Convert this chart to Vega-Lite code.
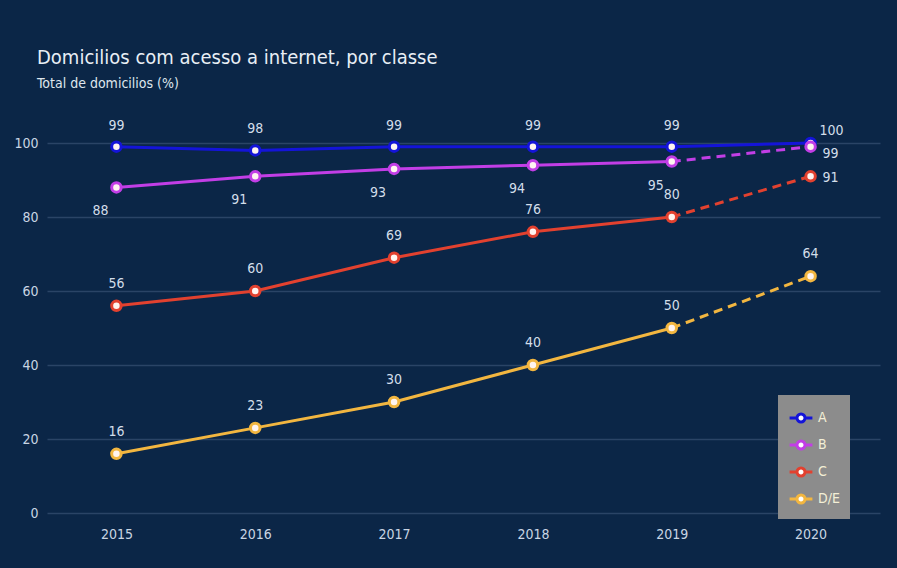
{
  "$schema": "https://vega.github.io/schema/vega-lite/v6.json",
  "width": 833,
  "height": 370,
  "autosize": "none",
  "padding": {"left": 47, "top": 143, "right": 17, "bottom": 55},
  "background": "#0b2647",
  "title": {
    "text": "Domicilios com acesso a internet, por classe",
    "subtitle": "Total de domicilios (%)",
    "anchor": "start",
    "frame": "group",
    "dx": -10,
    "offset": 28,
    "font": "DejaVu Sans Condensed, sans-serif",
    "fontSize": 20,
    "fontWeight": 500,
    "color": "#e8eef5",
    "subtitleFont": "DejaVu Sans Condensed, sans-serif",
    "subtitleFontSize": 14,
    "subtitleColor": "#dfe6ee",
    "subtitlePadding": 9
  },
  "config": {
    "view": {"stroke": null},
    "font": "DejaVu Sans Condensed, sans-serif",
    "axis": {
      "labelFont": "DejaVu Sans Condensed, sans-serif",
      "labelColor": "#c9d5e3",
      "labelFontSize": 14,
      "domain": false,
      "ticks": false,
      "title": null,
      "gridColor": "#2a4466",
      "gridWidth": 1.5
    }
  },
  "data": {
    "values": [
      {"Ano": "2015", "classe": "A", "valor": 99},
      {"Ano": "2016", "classe": "A", "valor": 98},
      {"Ano": "2017", "classe": "A", "valor": 99},
      {"Ano": "2018", "classe": "A", "valor": 99},
      {"Ano": "2019", "classe": "A", "valor": 99},
      {"Ano": "2020", "classe": "A", "valor": 100},
      {"Ano": "2015", "classe": "B", "valor": 88},
      {"Ano": "2016", "classe": "B", "valor": 91},
      {"Ano": "2017", "classe": "B", "valor": 93},
      {"Ano": "2018", "classe": "B", "valor": 94},
      {"Ano": "2019", "classe": "B", "valor": 95},
      {"Ano": "2020", "classe": "B", "valor": 99},
      {"Ano": "2015", "classe": "C", "valor": 56},
      {"Ano": "2016", "classe": "C", "valor": 60},
      {"Ano": "2017", "classe": "C", "valor": 69},
      {"Ano": "2018", "classe": "C", "valor": 76},
      {"Ano": "2019", "classe": "C", "valor": 80},
      {"Ano": "2020", "classe": "C", "valor": 91},
      {"Ano": "2015", "classe": "D/E", "valor": 16},
      {"Ano": "2016", "classe": "D/E", "valor": 23},
      {"Ano": "2017", "classe": "D/E", "valor": 30},
      {"Ano": "2018", "classe": "D/E", "valor": 40},
      {"Ano": "2019", "classe": "D/E", "valor": 50},
      {"Ano": "2020", "classe": "D/E", "valor": 64}
    ]
  },
  "encoding": {
    "x": {
      "field": "Ano",
      "type": "ordinal",
      "scale": {"type": "point", "padding": 0.5},
      "axis": {"labelAngle": 0, "labelPadding": 14, "grid": false}
    },
    "y": {
      "field": "valor",
      "type": "quantitative",
      "scale": {"domain": [0, 100]},
      "axis": {"values": [0, 20, 40, 60, 80, 100], "labelPadding": 9, "grid": true}
    }
  },
  "layer": [
    {
      "transform": [{"filter": "datum.Ano <= '2019' || datum.classe == 'A'"}],
      "mark": {"type": "line", "strokeWidth": 3},
      "encoding": {
        "color": {
          "field": "classe",
          "type": "nominal",
          "scale": {"domain": ["A", "B", "C", "D/E"], "range": ["#1414d8", "#c23ee6", "#e2412f", "#f2b640"]},
          "legend": {
            "title": null,
            "orient": "none",
            "legendX": 731,
            "legendY": 252,
            "fillColor": "#8c8c8c",
            "padding": 10,
            "rowPadding": 4,
            "symbolType": "M-1,0L-0.35,0M0.35,0L1,0M-0.35,0A0.35,0.35 0 1,1 0.35,0A0.35,0.35 0 1,1 -0.35,0",
            "symbolSize": 520,
            "symbolStrokeWidth": 3,
            "symbolFillColor": "#ffffff",
            "labelColor": "#f3efd6",
            "labelFontSize": 14,
            "labelOffset": 4,
            "labelFont": "DejaVu Sans Condensed, sans-serif"
          }
        }
      }
    },
    {
      "transform": [{"filter": "datum.Ano >= '2019' && datum.classe != 'A'"}],
      "mark": {"type": "line", "strokeWidth": 3, "strokeDash": [9, 6]},
      "encoding": {"color": {"field": "classe", "type": "nominal", "legend": null}}
    },
    {
      "mark": {"type": "point", "filled": true, "size": 90, "strokeWidth": 3, "fill": "#fff4f0", "opacity": 1},
      "encoding": {"stroke": {"field": "classe", "type": "nominal", "scale": {"domain": ["A", "B", "C", "D/E"], "range": ["#1414d8", "#c23ee6", "#e2412f", "#f2b640"]}, "legend": null}}
    },
    {
      "transform": [{"filter": "datum.classe == 'A' && datum.Ano <= '2019'"}],
      "mark": {"type": "text", "dy": -21, "fontSize": 14, "color": "#d3deea"},
      "encoding": {"text": {"field": "valor"}}
    },
    {
      "transform": [{"filter": "datum.classe == 'B' && datum.Ano <= '2019'"}],
      "mark": {"type": "text", "dx": -16, "dy": 24, "fontSize": 14, "color": "#d3deea"},
      "encoding": {"text": {"field": "valor"}}
    },
    {
      "transform": [{"filter": "(datum.classe == 'C' || datum.classe == 'D/E') && datum.Ano <= '2019'"}],
      "mark": {"type": "text", "dy": -22, "fontSize": 14, "color": "#d3deea"},
      "encoding": {"text": {"field": "valor"}}
    },
    {
      "transform": [{"filter": "datum.classe == 'A' && datum.Ano == '2020'"}],
      "mark": {"type": "text", "dx": 21, "dy": -12, "fontSize": 14, "color": "#d3deea"},
      "encoding": {"text": {"field": "valor"}}
    },
    {
      "transform": [{"filter": "datum.classe == 'B' && datum.Ano == '2020'"}],
      "mark": {"type": "text", "dx": 20, "dy": 7, "fontSize": 14, "color": "#d3deea"},
      "encoding": {"text": {"field": "valor"}}
    },
    {
      "transform": [{"filter": "datum.classe == 'C' && datum.Ano == '2020'"}],
      "mark": {"type": "text", "dx": 20, "dy": 2, "fontSize": 14, "color": "#d3deea"},
      "encoding": {"text": {"field": "valor"}}
    },
    {
      "transform": [{"filter": "datum.classe == 'D/E' && datum.Ano == '2020'"}],
      "mark": {"type": "text", "dy": -22, "fontSize": 14, "color": "#d3deea"},
      "encoding": {"text": {"field": "valor"}}
    }
  ]
}
